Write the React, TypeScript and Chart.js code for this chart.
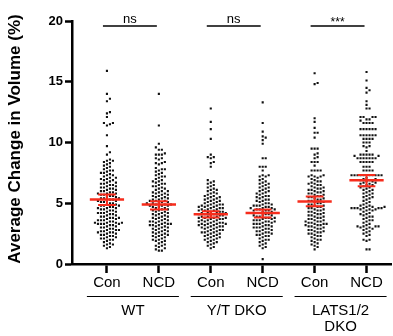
import React, { useEffect, useRef } from "react";
import { Chart, registerables } from "chart.js";

Chart.register(...registerables);

const FAMILY = "'Liberation Sans', Arial, Helvetica, sans-serif";

const conditions = ["Con", "NCD", "Con", "NCD", "Con", "NCD"];
const groups = [["WT"], ["Y/T DKO"], ["LATS1/2", "DKO"]];
const significance = ["ns", "ns", "***"];
const yTicks = [0, 5, 10, 15, 20];
const yTitle = "Average Change in Volume (%)";

const wtCon = [15.9, 14.0, 13.6, 13.4, 12.5, 12.4, 12.1, 11.6, 11.5, 11.6, 11.4, 10.6, 9.7, 9.2, 9.0, 8.6, 8.5, 8.5,
  8.4, 8.3, 8.2, 8.1, 8.0,
  7.9, 7.8, 7.7, 7.7, 7.6, 7.5, 7.5,
  7.4, 7.3, 7.3, 7.2, 7.1, 7.1, 7.0, 7.0,
  6.9, 6.9, 6.8, 6.7, 6.7, 6.6, 6.6, 6.5, 6.5,
  6.4, 6.4, 6.3, 6.3, 6.2, 6.2, 6.1, 6.1, 6.0, 6.0,
  5.9, 5.9, 5.8, 5.8, 5.8, 5.7, 5.7, 5.6, 5.6, 5.5, 5.5,
  5.4, 5.4, 5.4, 5.3, 5.3, 5.2, 5.2, 5.2, 5.1, 5.1, 5.0, 5.0,
  4.9, 4.9, 4.8, 4.8, 4.8, 4.7, 4.7, 4.6, 4.6, 4.6, 4.5, 4.5,
  4.4, 4.4, 4.3, 4.3, 4.2, 4.2, 4.2, 4.1, 4.1, 4.0, 4.0,
  3.9, 3.9, 3.8, 3.8, 3.8, 3.7, 3.7, 3.6, 3.6, 3.6, 3.5, 3.5,
  3.4, 3.4, 3.4, 3.4, 3.3, 3.3, 3.3, 3.3, 3.2, 3.2, 3.1, 3.1, 3.0, 3.0,
  2.9, 2.9, 2.8, 2.8, 2.8, 2.7, 2.7, 2.6, 2.6, 2.6, 2.5, 2.5,
  2.4, 2.4, 2.3, 2.3, 2.2, 2.2, 2.1, 2.1, 2.0, 2.0,
  1.9, 1.8, 1.7, 1.6, 1.6, 1.5,
  1.4, 1.3];

const wtNcd = [14.0, 11.4, 9.9, 9.6, 9.4, 9.4, 9.1, 9.0, 9.0, 9.0, 8.7, 8.7, 8.6,
  8.4, 8.3, 8.3, 8.2,
  7.9, 7.8, 7.8, 7.7, 7.6, 7.5,
  7.4, 7.3, 7.2, 7.2, 7.1, 7.0,
  6.9, 6.8, 6.8, 6.7, 6.6, 6.6, 6.5,
  6.4, 6.4, 6.3, 6.2, 6.2, 6.1, 6.0, 6.0,
  5.9, 5.9, 5.8, 5.8, 5.7, 5.7, 5.6, 5.6, 5.5, 5.5,
  5.4, 5.4, 5.3, 5.3, 5.2, 5.2, 5.2, 5.1, 5.1, 5.0, 5.0, 5.0,
  4.9, 4.9, 4.9, 4.8, 4.8, 4.8, 4.7, 4.7, 4.6, 4.6, 4.5, 4.5,
  4.4, 4.4, 4.3, 4.3, 4.2, 4.2, 4.1, 4.1, 4.0, 4.0,
  3.9, 3.9, 3.8, 3.8, 3.7, 3.7, 3.6, 3.6, 3.5, 3.5, 3.5,
  3.4, 3.4, 3.3, 3.3, 3.3, 3.2, 3.2, 3.2, 3.1, 3.1, 3.0, 3.0,
  2.9, 2.9, 2.8, 2.8, 2.7, 2.7, 2.6, 2.6, 2.5, 2.5,
  2.4, 2.4, 2.3, 2.3, 2.2, 2.2, 2.1, 2.0, 2.0,
  1.9, 1.9, 1.8, 1.7, 1.6, 1.5, 1.5,
  1.4, 1.3, 1.2, 1.1, 1.1];

const ytCon = [12.8, 11.7, 11.1, 10.3, 9.0, 8.8, 8.8, 8.7, 8.4, 8.3, 8.0,
  6.9, 6.8, 6.7, 6.6, 6.5, 6.4, 6.3, 6.2, 6.1, 6.1, 6.0,
  5.9, 5.8, 5.8, 5.7, 5.6, 5.6, 5.5, 5.5, 5.4, 5.4, 5.3, 5.3, 5.2, 5.2, 5.1, 5.1, 5.0, 5.0,
  4.9, 4.9, 4.9, 4.8, 4.8, 4.8, 4.7, 4.7, 4.7, 4.6, 4.6, 4.6, 4.5, 4.5, 4.5,
  4.4, 4.4, 4.4, 4.3, 4.3, 4.3, 4.2, 4.2, 4.2, 4.2, 4.1, 4.1, 4.1, 4.0, 4.0, 4.0,
  3.9, 3.9, 3.9, 3.8, 3.8, 3.8, 3.8, 3.7, 3.7, 3.7, 3.6, 3.6, 3.6, 3.5, 3.5, 3.5,
  3.4, 3.4, 3.4, 3.3, 3.3, 3.3, 3.3, 3.2, 3.2, 3.2, 3.1, 3.1, 3.1, 3.0, 3.0, 3.0,
  2.9, 2.9, 2.8, 2.8, 2.8, 2.7, 2.7, 2.6, 2.6, 2.6, 2.5, 2.5,
  2.4, 2.4, 2.3, 2.3, 2.2, 2.2, 2.1, 2.1, 2.0, 2.0,
  1.9, 1.8, 1.8, 1.7, 1.6, 1.5, 1.4, 1.3];

const ytNcd = [13.3, 11.6, 10.9, 10.5, 10.4, 10.2, 9.9, 8.7, 8.7, 8.0, 8.0, 8.0, 7.7, 7.3, 7.3, 7.2, 7.2,
  7.0, 6.9, 6.8, 6.7, 6.6, 6.6, 6.5, 6.4, 6.3, 6.3, 6.2, 6.1, 6.0, 6.0,
  5.9, 5.8, 5.8, 5.7, 5.6, 5.6, 5.5, 5.5, 5.4, 5.3, 5.3, 5.2, 5.2, 5.1, 5.0, 5.0,
  4.9, 4.9, 4.8, 4.8, 4.8, 4.7, 4.7, 4.6, 4.6, 4.6, 4.5, 4.5, 4.5,
  4.4, 4.4, 4.4, 4.3, 4.3, 4.2, 4.2, 4.2, 4.1, 4.1, 4.0, 4.0, 4.0,
  3.9, 3.9, 3.8, 3.8, 3.8, 3.7, 3.7, 3.6, 3.6, 3.6, 3.5, 3.5, 3.5,
  3.4, 3.4, 3.3, 3.3, 3.3, 3.2, 3.2, 3.1, 3.1, 3.0, 3.0, 3.0,
  2.9, 2.9, 2.8, 2.8, 2.7, 2.7, 2.6, 2.6, 2.5, 2.5,
  2.4, 2.4, 2.3, 2.3, 2.2, 2.1, 2.0, 2.0,
  1.9, 1.8, 1.7, 1.6, 1.5, 1.4, 1.3, 0.4];

const latsCon = [15.7, 14.9, 14.8, 12.0, 11.7, 11.2, 10.8, 10.8, 10.4, 9.5, 9.5, 9.5, 9.1, 9.0, 8.8, 8.7, 8.4, 8.4, 8.4, 8.1, 7.7, 7.7, 7.7, 7.7,
  7.3, 7.3, 7.2, 7.2, 7.2, 7.1,
  7.0, 6.9, 6.8, 6.8, 6.7, 6.6, 6.6, 6.5, 6.5,
  6.4, 6.3, 6.3, 6.2, 6.2, 6.1, 6.1, 6.0, 6.0,
  5.9, 5.9, 5.8, 5.8, 5.7, 5.7, 5.6, 5.6, 5.5, 5.5,
  5.4, 5.4, 5.3, 5.3, 5.2, 5.2, 5.1, 5.1, 5.0, 5.0,
  4.9, 4.9, 4.8, 4.8, 4.7, 4.7, 4.6, 4.6, 4.5, 4.5,
  4.4, 4.4, 4.3, 4.3, 4.2, 4.2, 4.1, 4.1, 4.0, 4.0,
  3.9, 3.9, 3.8, 3.8, 3.7, 3.7, 3.6, 3.6, 3.5, 3.5, 3.5,
  3.4, 3.4, 3.3, 3.3, 3.3, 3.2, 3.2, 3.2, 3.1, 3.1, 3.0, 3.0,
  2.9, 2.9, 2.8, 2.8, 2.7, 2.7, 2.6, 2.6, 2.5, 2.5,
  2.4, 2.3, 2.3, 2.2, 2.1, 2.0, 2.0,
  1.9, 1.8, 1.7, 1.6, 1.5, 1.4, 1.2];

const latsNcd = [15.8, 15.1, 14.5, 14.3, 14.1, 13.4, 13.1, 12.8, 12.8, 12.1, 12.1, 12.1, 12.1, 11.9, 11.9, 11.8,
  11.6, 11.6, 11.6, 11.6, 11.1, 11.1, 11.1, 11.1, 11.1, 11.1, 10.6, 10.6, 10.6, 10.6, 10.6, 10.6,
  10.3, 10.3, 10.3, 10.3, 10.0, 10.0, 10.0, 9.7, 9.7, 9.6, 9.3, 9.0, 9.0, 9.0, 9.0, 9.0, 8.9, 8.9,
  8.7, 8.7, 8.7, 8.7, 8.7, 8.7, 8.7, 8.4, 8.4, 8.4, 8.4, 8.4, 8.0, 8.0, 8.0, 7.7, 7.7, 7.7, 7.7,
  7.3, 7.3, 7.3, 7.3, 7.3, 7.3, 7.3, 7.3, 7.3, 7.3,
  7.1, 7.0, 7.0, 6.9, 6.9, 6.8, 6.8, 6.7, 6.7, 6.6, 6.6, 6.5, 6.5,
  6.4, 6.3, 6.3, 6.2, 6.1, 6.1, 6.0, 5.9, 5.8, 5.8, 5.7, 5.6, 5.5, 5.5, 5.4, 5.3, 5.2, 5.1, 5.0,
  4.9, 4.8, 4.8, 4.7, 4.7, 4.7, 4.6, 4.6, 4.6, 4.6, 4.6, 4.6, 4.5, 4.5, 4.5, 4.4, 4.4,
  4.3, 4.2, 4.1, 4.1, 4.0, 3.9, 3.9, 3.8, 3.7, 3.6, 3.6, 3.5, 3.4, 3.3,
  3.2, 3.1, 3.1, 3.1, 3.1, 3.0, 3.0, 2.9, 2.9, 2.8, 2.7, 2.6, 2.5, 2.4, 2.3,
  2.0, 2.0, 1.9, 1.2, 1.2];

const means = [5.3, 4.9, 4.1, 4.2, 5.15, 6.9];
const errHigh = [5.72, 5.17, 4.34, 4.48, 5.55, 7.33];
const errLow = [4.86, 4.48, 3.83, 3.83, 4.75, 6.39];

const RED = "rgb(246, 44, 28)";

function beeswarm(values: number[], toPx: (v: number) => number, d: number): number[] {
  const order = values.map((_, i) => i).sort((a, b) => values[a] - values[b]);
  const placed: { x: number; y: number }[] = [];
  const offs = new Array(values.length).fill(0);
  for (const i of order) {
    const y = toPx(values[i]);
    const near = placed.filter((p) => Math.abs(p.y - y) < d);
    let best = 0;
    for (let k = 0; k < 400; k++) {
      const cand = k === 0 ? 0 : (k % 2 ? 1 : -1) * Math.ceil(k / 2) * (d / 2);
      if (near.every((p) => Math.abs(p.x - cand) >= d)) {
        best = cand;
        break;
      }
    }
    offs[i] = best;
    placed.push({ x: best, y });
  }
  return offs;
}

const annotations = {
  id: "annotations",
  afterDraw(chart: any) {
    const ctx = chart.ctx;
    const xs = chart.scales.x;
    const top = chart.chartArea.top;
    ctx.save();
    ctx.fillStyle = "#000";
    ctx.strokeStyle = "#000";
    // y-axis title
    ctx.save();
    ctx.translate(15, 139);
    ctx.rotate(-Math.PI / 2);
    ctx.font = `bold 17px ${FAMILY}`;
    ctx.textAlign = "center";
    ctx.textBaseline = "middle";
    ctx.fillText(yTitle, 0, 0);
    ctx.restore();

    groups.forEach((g, gi) => {
      const a = xs.getPixelForValue(gi * 2 + 1);
      const b = xs.getPixelForValue(gi * 2 + 2);
      const mid = (a + b) / 2;
      // significance bracket
      const l = a - 4;
      const r = b - 2;
      ctx.lineWidth = 1.5;
      ctx.beginPath();
      ctx.moveTo(l, top + 5);
      ctx.lineTo(r, top + 5);
      ctx.stroke();
      const sig = significance[gi];
      ctx.textAlign = "center";
      ctx.textBaseline = "alphabetic";
      if (sig === "***") {
        ctx.font = `12px ${FAMILY}`;
        ctx.fillText(sig, (l + r) / 2, top + 5);
      } else {
        ctx.font = `13px ${FAMILY}`;
        ctx.fillText(sig, (l + r) / 2, top + 1.5);
      }
      // group bracket + label
      ctx.lineWidth = 1.2;
      ctx.beginPath();
      ctx.moveTo(mid - 46, 296.5);
      ctx.lineTo(mid + 46, 296.5);
      ctx.stroke();
      ctx.font = `15px ${FAMILY}`;
      g.forEach((line, li) => ctx.fillText(line, mid, 315 + li * 16));
    });
    ctx.restore();
  },
};

export default function App() {
  const ref = useRef<HTMLCanvasElement>(null);

  useEffect(() => {
    const canvas = ref.current;
    if (!canvas) return;
    const series = [wtCon, wtNcd, ytCon, ytNcd, latsCon, latsNcd];

    const meanLine: any[] = [];
    const errLine: any[] = [];
    series.forEach((_, i) => {
      const c = i + 1;
      meanLine.push({ x: c - 0.33, y: means[i] }, { x: c + 0.33, y: means[i] }, { x: c, y: null });
      errLine.push(
        { x: c - 0.17, y: errHigh[i] }, { x: c + 0.17, y: errHigh[i] }, { x: c, y: null },
        { x: c - 0.17, y: errLow[i] }, { x: c + 0.17, y: errLow[i] }, { x: c, y: null },
        { x: c, y: errLow[i] }, { x: c, y: errHigh[i] }, { x: c, y: null }
      );
    });

    const pointSets = series.map((vals, i) => ({
      type: "scatter" as const,
      data: vals.map((v) => ({ x: i + 1, y: v })),
      backgroundColor: "#111",
      borderWidth: 0,
      pointStyle: "rect",
      pointRadius: 1.5,
      pointHoverRadius: 1.5,
      order: 2,
    }));

    const chart = new Chart(canvas, {
      type: "scatter",
      data: {
        datasets: [
          {
            type: "line",
            data: meanLine,
            borderColor: RED,
            borderWidth: 2.5,
            pointRadius: 0,
            showLine: true,
            spanGaps: false,
            order: 0,
          } as any,
          {
            type: "line",
            data: errLine,
            borderColor: RED,
            borderWidth: 2,
            pointRadius: 0,
            showLine: true,
            spanGaps: false,
            order: 1,
          } as any,
          ...(pointSets as any[]),
        ],
      },
      options: {
        responsive: false,
        animation: false,
        layout: { padding: { top: 21, right: 1, left: 0, bottom: 0 } },
        plugins: { legend: { display: false }, tooltip: { enabled: false } },
        scales: {
          x: {
            type: "linear",
            min: 0.327,
            max: 6.481,
            afterBuildTicks: (s: any) => {
              s.ticks = conditions.map((_, i) => ({ value: i + 1 }));
            },
            afterFit: (s: any) => {
              s.height = 72;
            },
            ticks: {
              autoSkip: false,
              maxRotation: 0,
              color: "#000",
              padding: 1,
              font: { family: FAMILY, size: 15 },
              callback: (v: any) => conditions[Math.round(Number(v)) - 1] ?? "",
            },
            grid: { drawOnChartArea: false, tickLength: 9, tickWidth: 2.5, tickColor: "#000" },
            border: { display: true, color: "#000", width: 2.5 },
          },
          y: {
            type: "linear",
            min: 0,
            max: 20,
            afterBuildTicks: (s: any) => {
              s.ticks = yTicks.map((v) => ({ value: v }));
            },
            afterFit: (s: any) => {
              s.width = 72;
            },
            ticks: {
              color: "#000",
              padding: 2,
              font: { family: FAMILY, size: 13, weight: "bold" },
            },
            grid: { drawOnChartArea: false, tickLength: 7, tickWidth: 2.5, tickColor: "#000" },
            border: { display: true, color: "#000", width: 2.5 },
          },
        },
      } as any,
      plugins: [annotations],
    });

    // beeswarm layout computed through the chart's own scales
    const xs: any = chart.scales.x;
    const ys: any = chart.scales.y;
    series.forEach((vals, i) => {
      const offs = beeswarm(vals, (v) => ys.getPixelForValue(v), 3);
      const cx = xs.getPixelForValue(i + 1);
      (chart.data.datasets[2 + i] as any).data = vals.map((v, j) => ({
        x: xs.getValueForPixel(cx + offs[j]),
        y: v,
      }));
    });
    chart.update();

    return () => chart.destroy();
  }, []);

  return (
    <canvas
      ref={ref}
      width={393}
      height={336}
      style={{ position: "absolute", left: 0, top: 0, width: 393, height: 336, background: "#fff" }}
    />
  );
}
